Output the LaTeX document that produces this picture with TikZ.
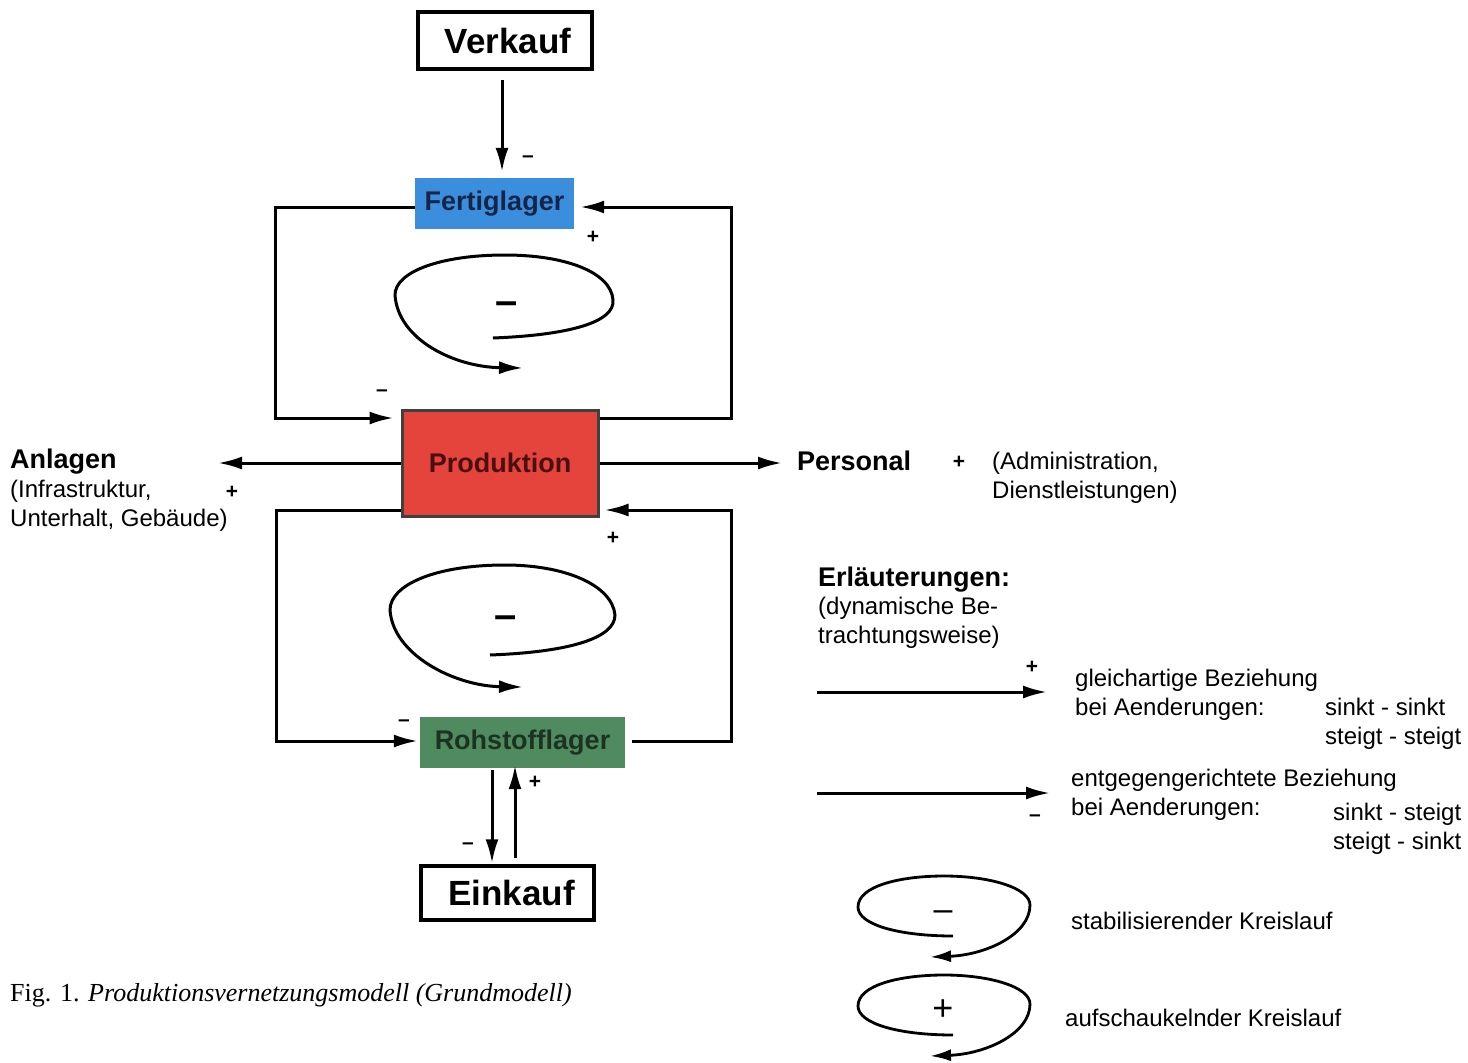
\documentclass[tikz,border=0pt]{standalone}
\usepackage{fontspec}
\setmainfont{Liberation Sans}
\newfontfamily\capfont{Liberation Serif}
\usetikzlibrary{arrows.meta}
\definecolor{fblue}{HTML}{3A8EDB}
\definecolor{pred}{HTML}{E5443D}
\definecolor{rgreen}{HTML}{4F8B5E}
\definecolor{fbtext}{HTML}{15254A}
\definecolor{prtext}{HTML}{4A1010}
\definecolor{rgtext}{HTML}{1C3324}
\begin{document}
\begin{tikzpicture}[x=1pt,y=-1pt,
  outbox/.style={draw, line width=3.5pt, inner sep=0pt, font=\fontsize{35}{40}\selectfont\bfseries},
  colbox/.style={inner sep=0pt, font=\fontsize{27}{30}\selectfont\bfseries},
  arr/.style={line width=3pt, -{Latex[length=24pt,width=13pt]}},
  loopln/.style={line width=3pt, -{Latex[length=24pt,width=13pt]}},
  legloop/.style={line width=2.8pt, -{Latex[length=21pt,width=12pt]}},
  sgn/.style={font=\fontsize{21}{21}\selectfont\bfseries, inner sep=0pt},
  txt/.style={font=\fontsize{24}{29}\selectfont, align=left, inner sep=0pt},
  head/.style={font=\fontsize{27}{30}\selectfont\bfseries, inner sep=0pt}]
\useasboundingbox[fill=white] (0,0) rectangle (1468,1063);

% main boxes
\node[outbox, minimum width=174pt, minimum height=57pt] (verkauf) at (505,40.5) {\hspace*{6pt}Verkauf};
\node[colbox, fill=fblue, text=fbtext, minimum width=159pt, minimum height=51pt] (fertig) at (494.5,203.5) {Fertiglager};
\node[colbox, fill=pred, text=prtext, draw=black!75, line width=3pt, minimum width=196pt, minimum height=106pt] (prod) at (500,463) {Produktion};
\node[colbox, fill=rgreen, text=rgtext, minimum width=205pt, minimum height=51pt] (rohst) at (522.5,742.5) {Rohstofflager};
\node[outbox, minimum width=173pt, minimum height=54pt] (einkauf) at (507.5,893) {\hspace*{8pt}Einkauf};

% connectors
\draw[arr, shorten <=9pt, shorten >=6pt] (verkauf.south -| 502,0) -- (fertig.north -| 502,0);
\node[sgn] at (528,159) {–};

\draw[arr, shorten >=7pt] (fertig.west |- 0,207) -| (275,418) -- (prod.west |- 0,418);
\node[sgn] at (382,393) {–};
\draw[arr, shorten >=6pt] (prod.east |- 0,418) -| (731,207) -- (fertig.east |- 0,207);
\node[sgn] at (593,237) {+};

\coordinate (anl) at (218,463);
\coordinate (pers) at (782,463);
\draw[arr] (prod.west |- 0,463) -- (anl);
\draw[arr] (prod.east |- 0,463) -- (pers);

\draw[arr, shorten >=2pt] (prod.west |- 0,510) -| (276,741) -- (rohst.west |- 0,741);
\node[sgn] at (404,723) {–};
\draw[arr, shorten <=7pt, shorten >=5pt] (rohst.east |- 0,741) -| (731,510) -- (prod.east |- 0,510);
\node[sgn] at (613,538) {+};

\draw[arr, shorten <=2pt, shorten >=1pt] (rohst.south -| 492,0) -- (einkauf.north -| 492,0);
\node[sgn] at (468,846) {–};
\draw[arr, shorten <=6pt, shorten >=-3pt] (einkauf.north -| 515,0) -- (rohst.south -| 515,0);
\node[sgn] at (535,782) {+};

% loops
\draw[loopln] (493,338) .. controls (570,335) and (615,322) .. (613,300)
  .. controls (611,272) and (565,255) .. (505,255)
  .. controls (440,255) and (395,272) .. (395,295)
  .. controls (398,340) and (455,367) .. (523,368);
\node[font=\fontsize{40}{40}\selectfont\bfseries, inner sep=0pt] at (507,308) {–};

\draw[loopln] (490,655) .. controls (570,652) and (615,638) .. (615,615)
  .. controls (612,585) and (565,565) .. (505,565)
  .. controls (435,565) and (390,585) .. (390,610)
  .. controls (393,655) and (455,686) .. (523,687);
\node[font=\fontsize{40}{40}\selectfont\bfseries, inner sep=0pt] at (506,622) {–};

% side texts
\node[head, anchor=west] (anlagen) at (10,462) {Anlagen};
\node[txt, anchor=north west] (anltxt) at (10,480) {(Infrastruktur,\\Unterhalt, Gebäude)};
\node[sgn] at (232,492) {+};

\node[head, anchor=west] (personal) at (797,461) {Personal};
\node[sgn] at (959,462) {+};
\node[txt, anchor=north west] (perstxt) at (992,452) {(Administration,\\Dienstleistungen)};

% legend
\node[head, anchor=west] (erl) at (818,580) {Erläuterungen:};
\node[txt, anchor=north west] (erltxt) at (818,597) {(dynamische Be-\\trachtungsweise)};

\coordinate (l1a) at (817,692);
\coordinate (l1b) at (1047,692);
\draw[arr] (l1a) -- (l1b);
\node[sgn] at (1032,667) {+};
\node[txt, anchor=north west] (gl) at (1075,669) {gleichartige Beziehung\\bei Aenderungen:};
\node[txt, anchor=north west] (gl2) at (1325,698) {sinkt - sinkt\\steigt - steigt};

\coordinate (l2a) at (817,793);
\coordinate (l2b) at (1050,793);
\draw[arr] (l2a) -- (l2b);
\node[sgn] at (1035,818) {–};
\node[txt, anchor=north west] (ent) at (1071,769) {entgegengerichtete Beziehung\\bei Aenderungen:};
\node[txt, anchor=north west] (ent2) at (1333,803) {sinkt - steigt\\steigt - sinkt};

\draw[legloop] (953,936) .. controls (900,936) and (858,925) .. (858,907)
  .. controls (858,886) and (900,876) .. (944,876)
  .. controls (990,876) and (1030,888) .. (1030,905)
  .. controls (1030,935) and (985,955) .. (930,957);
\node[font=\fontsize{34}{34}\selectfont, inner sep=0pt] at (943,916) {–};
\node[txt, anchor=west] (stab) at (1071,921) {stabilisierender Kreislauf};

\draw[legloop] (953,1035) .. controls (900,1035) and (858,1024) .. (858,1006)
  .. controls (858,985) and (900,975) .. (944,975)
  .. controls (990,975) and (1030,987) .. (1030,1004)
  .. controls (1030,1034) and (985,1054) .. (930,1056);
\node[font=\fontsize{36}{36}\selectfont, inner sep=0pt] at (943,1010) {+};
\node[txt, anchor=west] (aufs) at (1065,1018) {aufschaukelnder Kreislauf};

% caption
\node[anchor=west, inner sep=0pt, font=\capfont\fontsize{26}{30}\selectfont] (cap) at (10,995) {Fig. 1. \textit{Produktionsvernetzungsmodell (Grundmodell)}};
\end{tikzpicture}
\end{document}
